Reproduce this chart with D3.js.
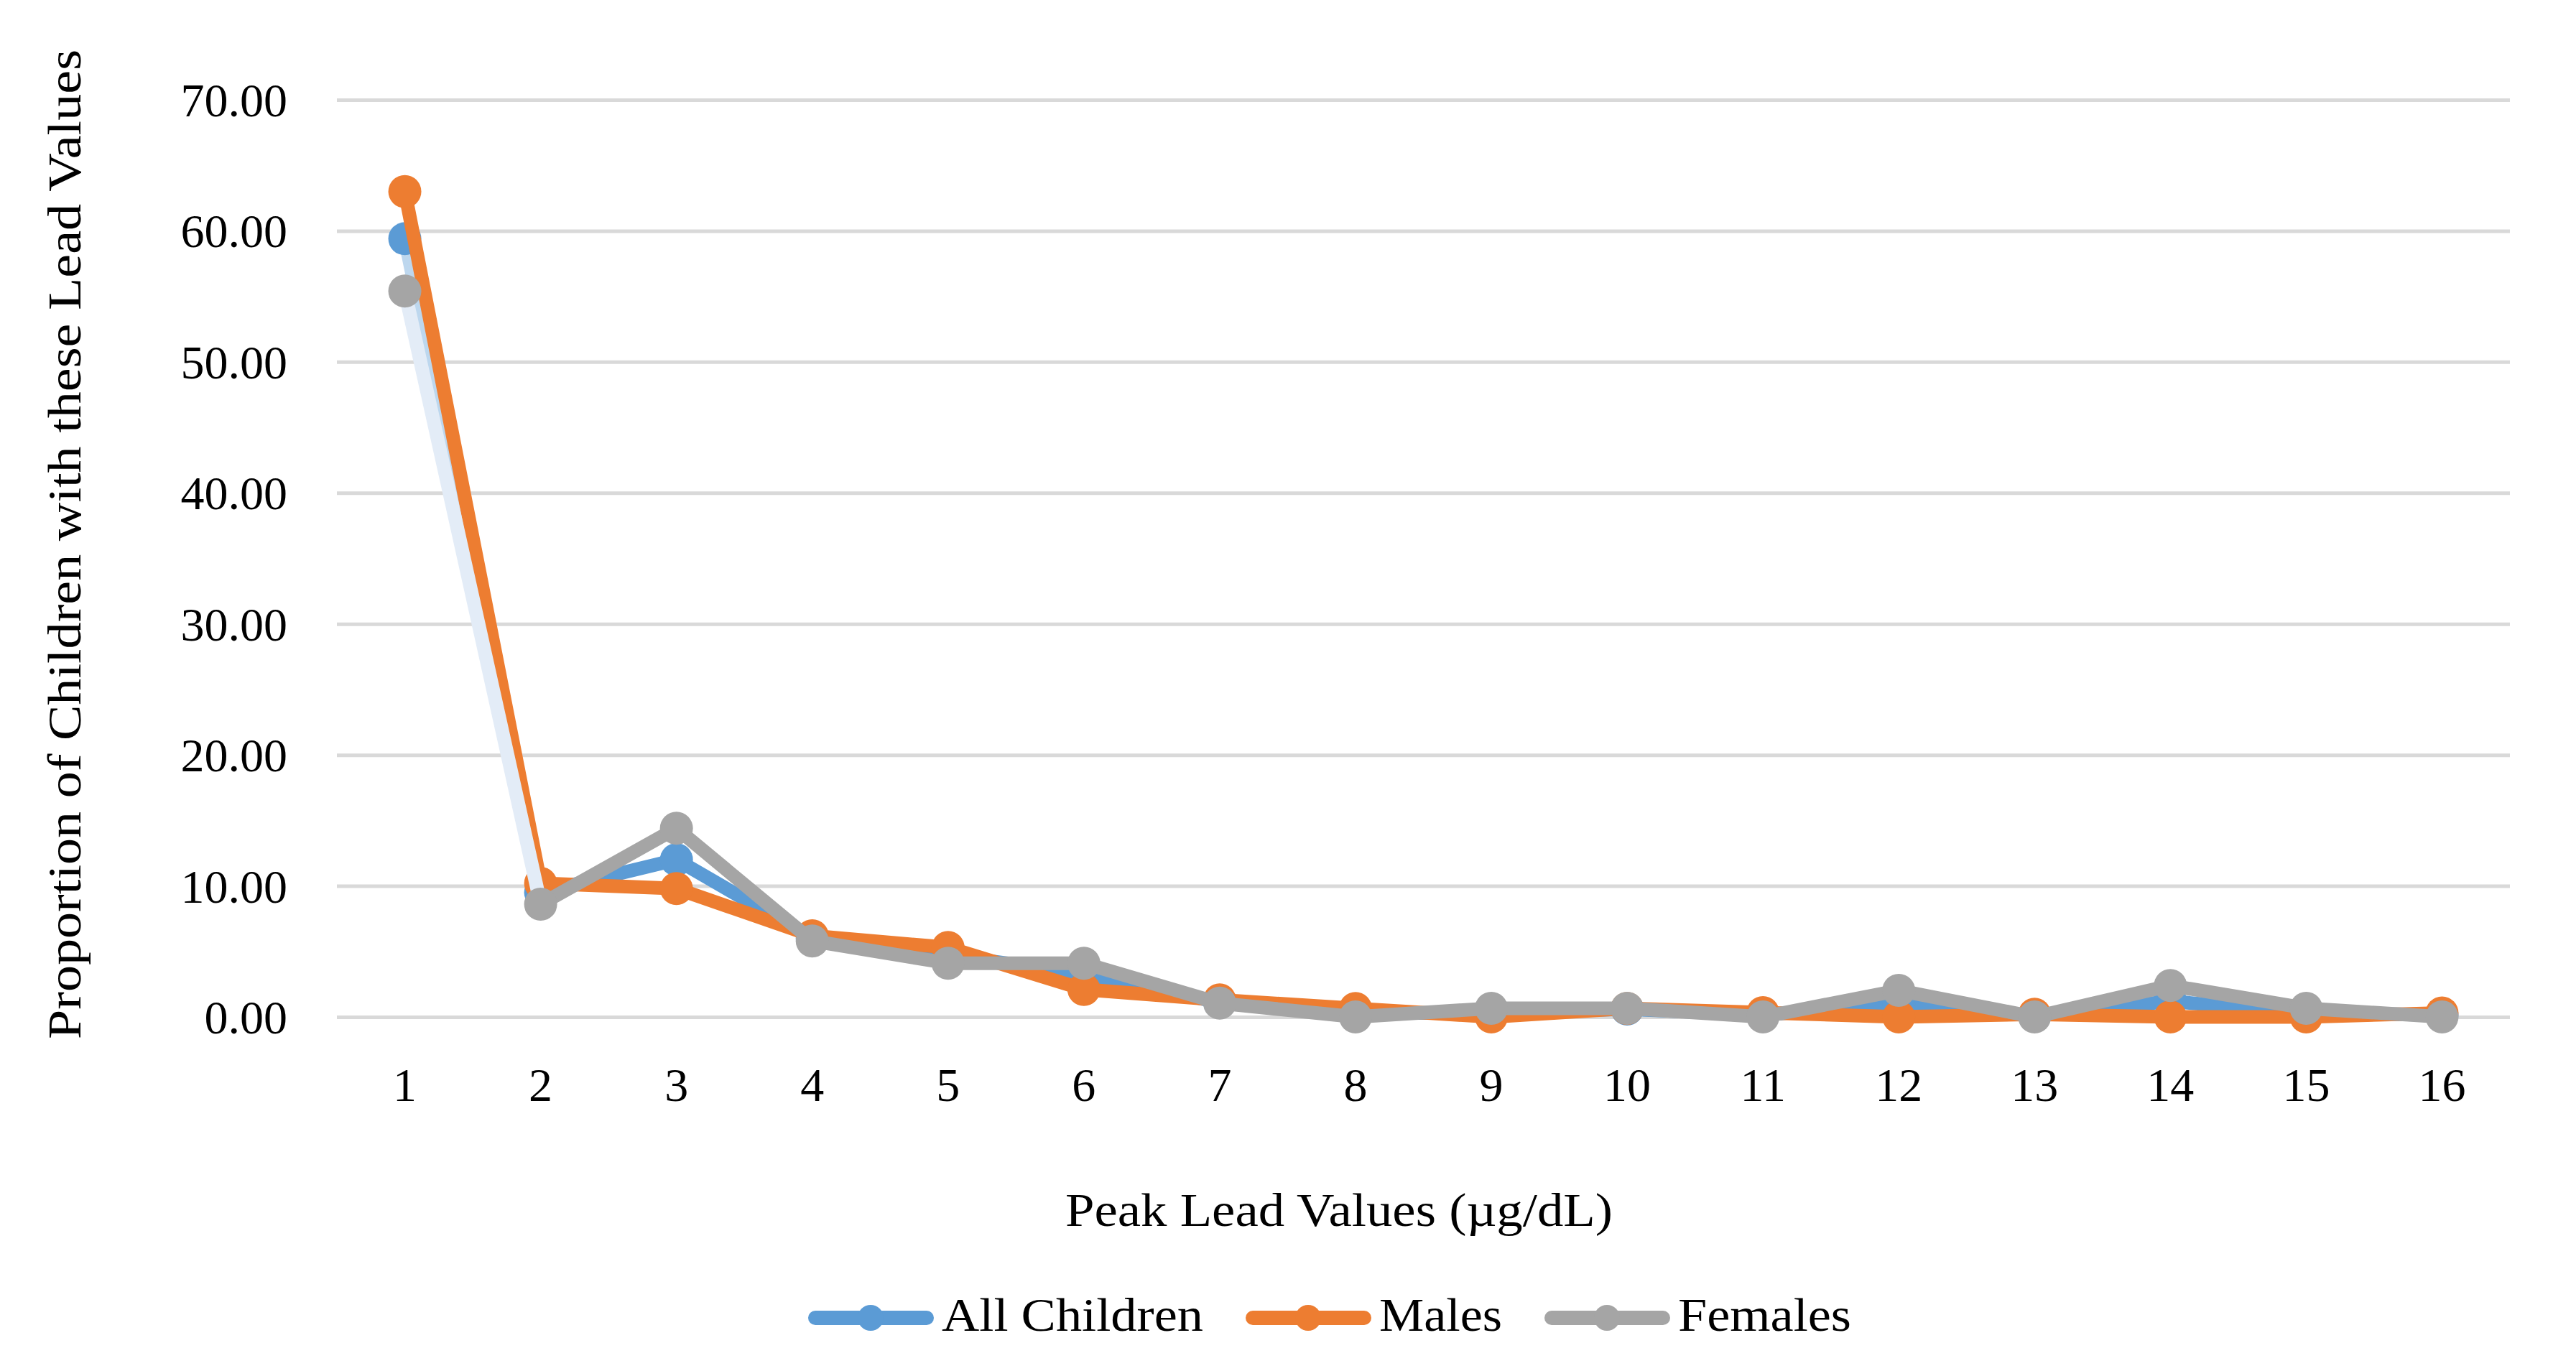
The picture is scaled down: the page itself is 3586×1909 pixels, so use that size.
<!DOCTYPE html>
<html>
<head>
<meta charset="utf-8">
<script src="https://cdn.jsdelivr.net/npm/d3@7"></script>
<style>
  html, body { margin: 0; padding: 0; background: #fff; }
  svg { display: block; }
  text { font-family: "Palatino Linotype", "Book Antiqua", Palatino, "Liberation Serif", serif; fill: #000; }
</style>
</head>
<body>
<svg id="chart" width="3586" height="1909"></svg>
<script>
const categories = ["1","2","3","4","5","6","7","8","9","10","11","12","13","14","15","16"];
const allChildren = [59.4, 9.5, 12.0, 6.0, 4.7, 3.3, 1.1, 0.3, 0.3, 0.6, 0.15, 1.0, 0.1, 1.2, 0.3, 0.15];
const males       = [63.0, 10.2, 9.8, 6.2, 5.3, 2.1, 1.3, 0.65, 0.0, 0.65, 0.33, 0.0, 0.2, 0.0, 0.0, 0.3];
const females     = [55.4, 8.6, 14.4, 5.8, 4.1, 4.1, 1.05, 0.0, 0.66, 0.66, 0.0, 2.03, 0.0, 2.4, 0.66, 0.0];
const yTicks = [0, 10, 20, 30, 40, 50, 60, 70];
const seriesNames = ["All Children", "Males", "Females"];
const seriesColors = ["#5B9BD5", "#ED7D31", "#A5A5A5"];
const firstSegColors = ["#BDD7EE", "#ED7D31", "#E3ECF7"];
const xTitle = "Peak Lead Values (\u00B5g/dL)";
const yTitle = "Proportion of Children with these Lead Values";

const svg = d3.select("#chart");
const mLeft = 469, mRight = 3494, mTop = 139, mBottom = 1416;
const FS = 66;

const x = d3.scaleBand().domain(categories).range([mLeft, mRight]);
const y = d3.scaleLinear().domain([0, 70]).range([mBottom, mTop]);

// grid + y axis
const gy = svg.append("g").attr("transform", `translate(${mLeft},0)`)
  .call(d3.axisLeft(y).tickValues(yTicks).tickFormat(d3.format(".2f"))
    .tickSize(-(mRight - mLeft)).tickPadding(mLeft - 400));
gy.select(".domain").remove();
gy.selectAll(".tick line").attr("stroke", "#D9D9D9").attr("stroke-width", 5);
gy.selectAll(".tick text").attr("font-size", FS).attr("font-family", null).attr("dy", "0.34em");

// x axis
const gx = svg.append("g").attr("transform", `translate(0,${mBottom})`)
  .call(d3.axisBottom(x).tickSize(0).tickPadding(70));
gx.select(".domain").remove();
gx.selectAll(".tick text").attr("font-size", FS).attr("font-family", null);

// series
const data = [allChildren, males, females];
const cx = i => x(categories[i]) + x.bandwidth() / 2;
const LW = 19, R = 23;
const segLine = d3.line().x(d => cx(d.i)).y(d => y(d.v));
data.forEach((vals, s) => {
  const g = svg.append("g");
  const pts = vals.map((v, i) => ({v, i}));
  // first segment (rendered lighter in reference)
  g.append("path").datum(pts.slice(0, 2))
    .attr("d", segLine).attr("fill", "none").attr("stroke", firstSegColors[s])
    .attr("stroke-width", LW).attr("stroke-linejoin", "round").attr("stroke-linecap", "round");
  g.append("path").datum(pts.slice(1))
    .attr("d", segLine)
    .attr("fill", "none").attr("stroke", seriesColors[s])
    .attr("stroke-width", LW).attr("stroke-linejoin", "round").attr("stroke-linecap", "round");
  g.selectAll("circle").data(pts).join("circle")
    .attr("cx", d => cx(d.i))
    .attr("cy", d => y(d.v)).attr("r", R).attr("fill", seriesColors[s]);
});

// axis titles
svg.append("text").attr("x", 1864).attr("y", 1707).attr("text-anchor", "middle")
  .attr("font-size", FS).attr("textLength", 762).attr("lengthAdjust", "spacingAndGlyphs").text(xTitle);
svg.append("text").attr("transform", "translate(112,758) rotate(-90)")
  .attr("text-anchor", "middle").attr("font-size", FS)
  .attr("textLength", 1378).attr("lengthAdjust", "spacingAndGlyphs").text(yTitle);

// legend
const legendX = [1125, 1734, 2150];
const legendLen = [364, 171, 241];
const legendY = 1835;
seriesNames.forEach((name, s) => {
  const g = svg.append("g").attr("transform", `translate(${legendX[s]},${legendY})`);
  g.append("line").attr("x1", 10).attr("x2", 165).attr("y1", 0).attr("y2", 0)
    .attr("stroke", seriesColors[s]).attr("stroke-width", 20).attr("stroke-linecap", "round");
  g.append("circle").attr("cx", 87).attr("cy", 0).attr("r", 18).attr("fill", seriesColors[s]);
  g.append("text").attr("x", 186).attr("y", 18).attr("font-size", FS)
    .attr("textLength", legendLen[s]).attr("lengthAdjust", "spacingAndGlyphs").text(name);
});
</script>
</body>
</html>
